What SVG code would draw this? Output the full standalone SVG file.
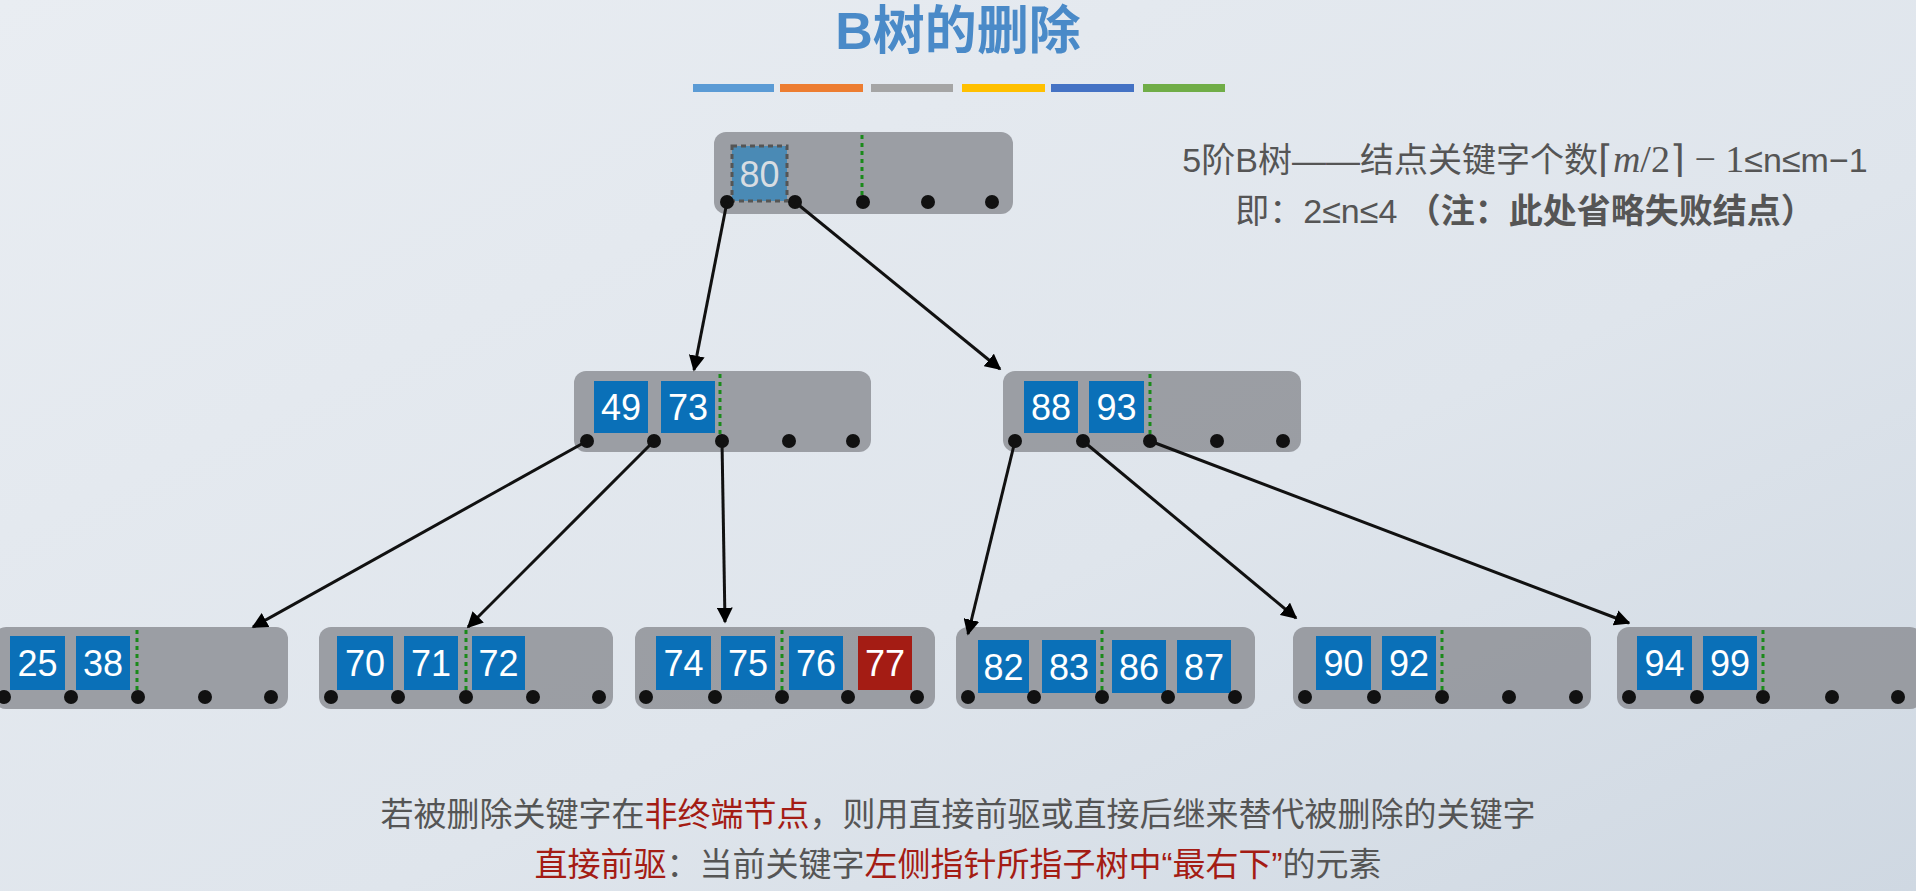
<svg xmlns="http://www.w3.org/2000/svg" width="1916" height="891" viewBox="0 0 1916 891">
<defs>
<linearGradient id="bg" x1="0" y1="0" x2="1" y2="1"><stop offset="0" stop-color="#e9edf2"/><stop offset="0.6" stop-color="#dfe5ec"/><stop offset="1" stop-color="#cfd8e2"/></linearGradient>
<marker id="ar" viewBox="0 0 10 10" refX="9" refY="5" markerWidth="16" markerHeight="16" orient="auto" markerUnits="userSpaceOnUse"><path d="M0,0 L10,5 L0,10 z" fill="#000"/></marker>
</defs>
<style>
.n{fill:#8e9196;fill-opacity:0.85;}
.k{fill:#0a70b8;}
.kt{font-family:"Liberation Sans",Arial,sans-serif;font-size:36px;fill:#fff;text-anchor:middle;}
.g{stroke:#1a8a1a;stroke-width:3;stroke-dasharray:4,4;}
.d{fill:#111;}
.c line{stroke:#111;stroke-width:3;marker-end:url(#ar);}
.t{font-family:"Liberation Sans","Noto Sans CJK SC",sans-serif;fill:#555;}
</style>
<rect width="1916" height="891" fill="url(#bg)"/>
<text x="958" y="49" text-anchor="middle" font-family="Liberation Sans,Noto Sans CJK SC,sans-serif" font-weight="bold" font-size="52" fill="#4a8ac8">B树的删除</text>
<g>
<rect x="693" y="84" width="81" height="8" fill="#5b9bd5"/><rect x="780" y="84" width="83" height="8" fill="#ed7d31"/><rect x="871" y="84" width="82" height="8" fill="#a5a5a5"/><rect x="962" y="84" width="83" height="8" fill="#ffc000"/><rect x="1051" y="84" width="83" height="8" fill="#4472c4"/><rect x="1143" y="84" width="82" height="8" fill="#70ad47"/>
</g>
<text class="t" x="1525" y="172" text-anchor="middle" font-size="34">5阶B树——结点关键字个数<tspan font-family="Liberation Serif,serif" font-size="38">⌈<tspan font-style="italic">m</tspan>/2⌉ − 1</tspan>≤n≤m−1</text>
<text class="t" x="1525" y="223" text-anchor="middle" font-size="34">即：2≤n≤4 <tspan font-weight="bold">（注：此处省略失败结点）</tspan></text>

<g id="root">
<rect class="n" x="714" y="132" width="299" height="82" rx="12"/>
<rect x="732" y="146" width="55" height="55" fill="#4a8ab5" stroke="#555" stroke-width="3" stroke-dasharray="5,4"/>
<text class="kt" x="759.5" y="187" style="fill:#d8dde2">80</text>
<line class="g" x1="862" y1="135" x2="862" y2="197"/>
<circle class="d" cx="727" cy="202" r="7"/><circle class="d" cx="795" cy="202" r="7"/><circle class="d" cx="863" cy="202" r="7"/><circle class="d" cx="928" cy="202" r="7"/><circle class="d" cx="992" cy="202" r="7"/>
</g>

<g id="nA">
<rect class="n" x="574" y="371" width="297" height="81" rx="12"/>
<rect class="k" x="594" y="381" width="54" height="52"/><text class="kt" x="621" y="420">49</text>
<rect class="k" x="661" y="381" width="54" height="52"/><text class="kt" x="688" y="420">73</text>
<line class="g" x1="720" y1="374" x2="720" y2="436"/>
<circle class="d" cx="587" cy="441" r="7"/><circle class="d" cx="654" cy="441" r="7"/><circle class="d" cx="722" cy="441" r="7"/><circle class="d" cx="789" cy="441" r="7"/><circle class="d" cx="853" cy="441" r="7"/>
</g>
<g id="nB">
<rect class="n" x="1003" y="371" width="298" height="81" rx="12"/>
<rect class="k" x="1024" y="381" width="54" height="52"/><text class="kt" x="1051" y="420">88</text>
<rect class="k" x="1089" y="381" width="55" height="52"/><text class="kt" x="1116.5" y="420">93</text>
<line class="g" x1="1150" y1="374" x2="1150" y2="436"/>
<circle class="d" cx="1015" cy="441" r="7"/><circle class="d" cx="1083" cy="441" r="7"/><circle class="d" cx="1150" cy="441" r="7"/><circle class="d" cx="1217" cy="441" r="7"/><circle class="d" cx="1283" cy="441" r="7"/>
</g>

<g id="n1">
<rect class="n" x="-6" y="627" width="294" height="82" rx="12"/>
<rect class="k" x="10" y="636" width="55" height="54"/><text class="kt" x="37.5" y="676">25</text>
<rect class="k" x="76" y="636" width="54" height="54"/><text class="kt" x="103" y="676">38</text>
<line class="g" x1="137" y1="630" x2="137" y2="692"/>
<circle class="d" cx="4" cy="697" r="7"/><circle class="d" cx="71" cy="697" r="7"/><circle class="d" cx="138" cy="697" r="7"/><circle class="d" cx="205" cy="697" r="7"/><circle class="d" cx="271" cy="697" r="7"/>
</g>
<g id="n2">
<rect class="n" x="319" y="627" width="294" height="82" rx="12"/>
<rect class="k" x="337" y="636" width="56" height="54"/><text class="kt" x="365" y="676">70</text>
<rect class="k" x="404" y="636" width="54" height="54"/><text class="kt" x="431" y="676">71</text>
<rect class="k" x="472" y="636" width="53" height="54"/><text class="kt" x="498.5" y="676">72</text>
<line class="g" x1="466" y1="630" x2="466" y2="692"/>
<circle class="d" cx="331" cy="697" r="7"/><circle class="d" cx="398" cy="697" r="7"/><circle class="d" cx="466" cy="697" r="7"/><circle class="d" cx="533" cy="697" r="7"/><circle class="d" cx="599" cy="697" r="7"/>
</g>
<g id="n3">
<rect class="n" x="635" y="627" width="300" height="82" rx="12"/>
<rect class="k" x="656" y="636" width="55" height="54"/><text class="kt" x="683.5" y="676">74</text>
<rect class="k" x="721" y="636" width="54" height="54"/><text class="kt" x="748" y="676">75</text>
<rect class="k" x="789" y="636" width="54" height="54"/><text class="kt" x="816" y="676">76</text>
<rect x="858" y="636" width="54" height="54" fill="#a41c14"/><text class="kt" x="885" y="676">77</text>
<line class="g" x1="782" y1="630" x2="782" y2="692"/>
<circle class="d" cx="646" cy="697" r="7"/><circle class="d" cx="715" cy="697" r="7"/><circle class="d" cx="782" cy="697" r="7"/><circle class="d" cx="848" cy="697" r="7"/><circle class="d" cx="917" cy="697" r="7"/>
</g>
<g id="n4">
<rect class="n" x="956" y="627" width="299" height="82" rx="12"/>
<rect class="k" x="978" y="640" width="51" height="53"/><text class="kt" x="1003.5" y="680">82</text>
<rect class="k" x="1042" y="640" width="54" height="53"/><text class="kt" x="1069" y="680">83</text>
<rect class="k" x="1112" y="640" width="54" height="53"/><text class="kt" x="1139" y="680">86</text>
<rect class="k" x="1177" y="640" width="54" height="53"/><text class="kt" x="1204" y="680">87</text>
<line class="g" x1="1102" y1="630" x2="1102" y2="692"/>
<circle class="d" cx="968" cy="697" r="7"/><circle class="d" cx="1034" cy="697" r="7"/><circle class="d" cx="1102" cy="697" r="7"/><circle class="d" cx="1168" cy="697" r="7"/><circle class="d" cx="1235" cy="697" r="7"/>
</g>
<g id="n5">
<rect class="n" x="1293" y="627" width="298" height="82" rx="12"/>
<rect class="k" x="1316" y="636" width="55" height="54"/><text class="kt" x="1343.5" y="676">90</text>
<rect class="k" x="1382" y="636" width="54" height="54"/><text class="kt" x="1409" y="676">92</text>
<line class="g" x1="1442" y1="630" x2="1442" y2="692"/>
<circle class="d" cx="1305" cy="697" r="7"/><circle class="d" cx="1374" cy="697" r="7"/><circle class="d" cx="1442" cy="697" r="7"/><circle class="d" cx="1509" cy="697" r="7"/><circle class="d" cx="1576" cy="697" r="7"/>
</g>
<g id="n6">
<rect class="n" x="1617" y="627" width="305" height="82" rx="12"/>
<rect class="k" x="1637" y="636" width="55" height="54"/><text class="kt" x="1664.5" y="676">94</text>
<rect class="k" x="1703" y="636" width="54" height="54"/><text class="kt" x="1730" y="676">99</text>
<line class="g" x1="1763" y1="630" x2="1763" y2="692"/>
<circle class="d" cx="1629" cy="697" r="7"/><circle class="d" cx="1697" cy="697" r="7"/><circle class="d" cx="1763" cy="697" r="7"/><circle class="d" cx="1832" cy="697" r="7"/><circle class="d" cx="1898" cy="697" r="7"/>
</g>

<g class="c" id="connectors">
<line x1="727" y1="202" x2="694" y2="370"/>
<line x1="795" y1="202" x2="1000" y2="369"/>
<line x1="587" y1="441" x2="253" y2="627"/>
<line x1="654" y1="441" x2="468" y2="627"/>
<line x1="722" y1="441" x2="725" y2="622"/>
<line x1="1015" y1="441" x2="968" y2="634"/>
<line x1="1083" y1="441" x2="1296" y2="618"/>
<line x1="1150" y1="441" x2="1629" y2="623"/>
</g>

<text class="t" x="958" y="826" text-anchor="middle" font-size="33">若被删除关键字在<tspan fill="#a41c14">非终端节点</tspan>，则用直接前驱或直接后继来替代被删除的关键字</text>
<text class="t" x="958" y="876" text-anchor="middle" font-size="33"><tspan fill="#a41c14">直接前驱</tspan>：当前关键字<tspan fill="#a41c14">左侧指针所指子树中“最右下”</tspan>的元素</text>
</svg>
